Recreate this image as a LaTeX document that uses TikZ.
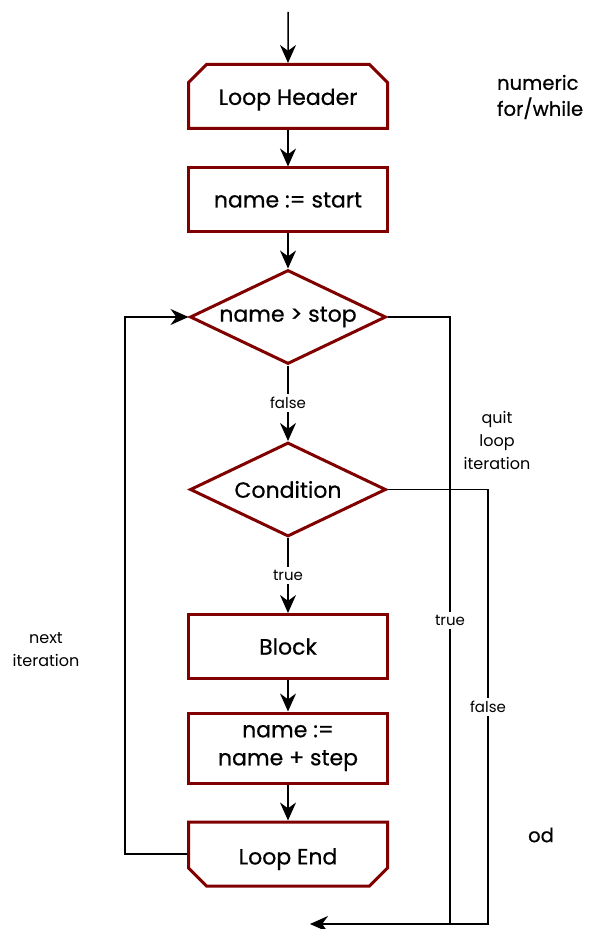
\documentclass[tikz,border=0pt]{standalone}
\usepackage{fontspec}
\setmainfont{Poppins}
\newfontfamily\boxfont{Poppins}[FakeBold=0.6]
\usetikzlibrary{shapes.geometric,shapes.misc,arrows.meta}
\definecolor{darkred}{rgb}{0.5,0,0}

\begin{document}
\begin{tikzpicture}[x=0.5pt,y=-0.5pt,
    block/.style={draw=darkred, line width=1.5pt, fill=white, inner sep=0pt,
      minimum width=99.5pt, minimum height=32pt, font=\boxfont\fontsize{11}{14}\selectfont},
    header/.style={block, chamfered rectangle, chamfered rectangle corners={north west,north east},
      chamfered rectangle xsep=4.5pt, chamfered rectangle ysep=4.5pt, text height=11pt, text depth=2.6pt},
    footer/.style={block, chamfered rectangle, chamfered rectangle corners={south west,south east},
      chamfered rectangle xsep=4.5pt, chamfered rectangle ysep=4.5pt, text height=13pt, text depth=2.6pt},
    decision/.style={block, diamond, aspect=2.1, minimum width=98pt, minimum height=47pt},
    arr/.style={line width=0.75pt, -{Stealth[length=9pt,width=8pt]}},
    line/.style={line width=0.75pt},
    lbl/.style={fill=white, inner sep=1.5pt, font=\fontsize{7.5}{9}\selectfont},
    note/.style={align=center, font=\fontsize{8}{11.5}\selectfont},
    remark/.style={align=left, font=\boxfont\fontsize{9.8}{13}\selectfont}]
        \useasboundingbox (0,0) rectangle (589,929);
        % Loop body
        \node[header] (head) at (288,96.5) {Loop Header};
        \node[block] (init) at (288,200) {name := start};
        \node[decision] (test) at (288,317) {name > stop};
        \node[decision] (cond) at (288,489.5) {Condition};
        \node[block] (body) at (288,646.5) {Block};
        \node[block, align=center, minimum height=35pt] (incr) at (288,748) {name :=\\ name + step};
        \node[footer] (endl) at (288,854) {Loop End};
        \coordinate (in) at (288,12);
        \coordinate (out) at (310,924);
        \coordinate (outA) at (450,924);
        \coordinate (outB) at (488,924);
        % Straight flow
        \draw[arr] (in) -- (head);
        \draw[arr] (head) -- (init);
        \draw[arr] (init) -- (test);
        \draw[arr] (test) -- node[lbl] {false} (cond);
        \draw[arr] (cond) -- node[lbl] {true} (body);
        \draw[arr] (body) -- (incr);
        \draw[arr] (incr) -- (endl);
        % Back edge and exits
        \draw[arr] (endl.west) -- ++(-62,0) |- (test.west);
        \draw[arr] (test.east) -| node[lbl, pos=0.75] {true} (outA) -- (out);
        \draw[line] (cond.east) -| node[lbl, pos=0.75] {false} (outB) -- (outA);
        % Notes
        \node[note] (next) at (46,650) {next\\iteration};
        \node[note] (quit) at (497,440) {quit\\loop\\iteration};
        \node[remark, anchor=west] (kind) at (490,97) {numeric\\for/while};
        \node[remark] (od) at (541,835) {od};
      \end{tikzpicture}
\end{document}
